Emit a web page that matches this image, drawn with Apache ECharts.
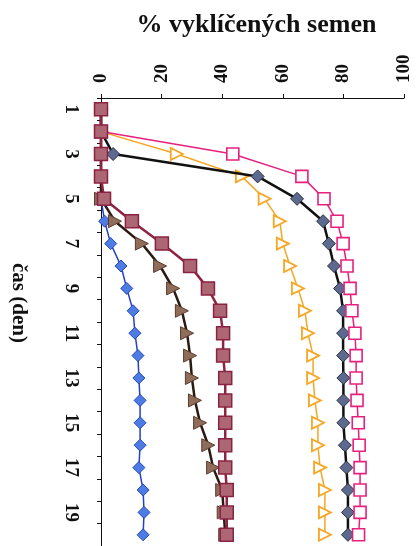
<!DOCTYPE html>
<html>
<head>
<meta charset="utf-8">
<script src="https://cdn.jsdelivr.net/npm/echarts@6/dist/echarts.min.js"></script>
<style>
html,body{margin:0;padding:0;background:#fff;}
#chart{width:417px;height:546px;}
</style>
</head>
<body>
<div id="chart"></div>
<script>
var days = ['1','2','3','4','5','6','7','8','9','10','11','12','13','14','15','16','17','18','19','20'];
var valueTicks = [0, 20, 40, 60, 80, 100];
var pinkSeries   = [0, 0, 43.5, 66.3, 73.6, 77.9, 79.9, 81.2, 82.2, 82.8, 83.8, 84.2, 84.2, 84.5, 84.9, 85.2, 85.5, 85.5, 85.5, 85];
var blackSeries  = [0, 0, 4, 51.7, 64.7, 73.3, 75.2, 76.9, 78.9, 79.9, 79.9, 79.9, 80, 80, 80, 80.5, 81, 81.5, 81.5, 81.5];
var orangeSeries = [0, 0, 25, 46.5, 54, 59, 60, 62.4, 65, 67.3, 68.3, 70, 70, 70.6, 71.6, 71.6, 72.3, 73.9, 73.9, 73.9];
var maroonSeries = [0, 0, 0, 0, 1, 10.2, 20.1, 29.4, 35.3, 39.3, 40.3, 40.3, 41, 41, 41, 41, 41, 41.5, 41.5, 41.5];
var brownSeries  = [0, 0, 0, 0, 0, 4.6, 13.5, 19.5, 23.8, 26.7, 28.4, 29.4, 30, 31, 32.7, 35.4, 37, 40, 40.5, 41];
var blueSeries   = [0, 0, 0, 0, 0, 1.2, 3.2, 6.6, 8.5, 10.6, 11.2, 12.2, 12.5, 12.9, 12.9, 12.9, 12.5, 13.9, 14.2, 13.9];

var FONT = 'Liberation Serif';
var chart = echarts.init(document.getElementById('chart'), null, {renderer: 'canvas'});

function mk(name, data, o) {
  return {
    name: name,
    type: 'line',
    data: data,
    symbol: o.symbol,
    symbolSize: o.size,
    symbolRotate: o.rotate || 0,
    z: o.z,
    lineStyle: {color: o.line, width: o.lw},
    itemStyle: {color: o.fill, borderColor: o.border, borderWidth: o.bw},
    emphasis: {disabled: true},
    animation: false
  };
}

chart.setOption({
  backgroundColor: '#ffffff',
  animation: false,
  grid: {left: 101, right: 13, top: 98, bottom: -1, containLabel: false},
  xAxis: {
    type: 'value',
    position: 'top',
    min: valueTicks[0],
    max: valueTicks[valueTicks.length - 1],
    interval: valueTicks[1] - valueTicks[0],
    name: '% vyklíčených semen',
    nameLocation: 'middle',
    nameGap: 60,
    nameTextStyle: {fontFamily: FONT, fontSize: 26, fontWeight: 'bold', color: '#111', padding: [0, 0, 0, 8]},
    axisLine: {show: true, lineStyle: {color: '#111', width: 1}},
    axisTick: {show: true, inside: false, length: 4, lineStyle: {color: '#111'}},
    splitLine: {show: false},
    axisLabel: {rotate: -90, margin: 15, fontFamily: FONT, fontSize: 19, fontWeight: 'bold', color: '#111'}
  },
  yAxis: {
    type: 'category',
    data: days,
    inverse: true,
    boundaryGap: true,
    axisLine: {show: true, lineStyle: {color: '#111', width: 1}},
    axisTick: {show: true, interval: 0, inside: false, length: 4, lineStyle: {color: '#111'}},
    splitLine: {show: false},
    axisLabel: {rotate: -90, interval: 1, margin: 21, fontFamily: FONT, fontSize: 19, fontWeight: 'bold', color: '#111'}
  },
  graphic: [{
    type: 'text',
    x: 18, y: 303,
    rotation: -Math.PI / 2,
    style: {text: 'čas (den)', fontFamily: FONT, fontSize: 21, fontWeight: 'bold', fill: '#111', textAlign: 'center', textVerticalAlign: 'middle'}
  }],
  series: [
    mk('blue', blueSeries, {symbol: 'diamond', size: 12, line: '#2440c4', lw: 1.5, fill: '#4d7ce2', border: '#2846c0', bw: 1, z: 2}),
    mk('brown', brownSeries, {symbol: 'triangle', size: 13, rotate: -90, line: '#2a1a12', lw: 2.5, fill: '#8e6d5b', border: '#5e3a2c', bw: 1, z: 3}),
    mk('orange', orangeSeries, {symbol: 'triangle', size: 12, rotate: -90, line: '#f6a623', lw: 1.5, fill: '#ffffff', border: '#f6a623', bw: 1.8, z: 4}),
    mk('black', blackSeries, {symbol: 'diamond', size: 13, line: '#111111', lw: 2.5, fill: '#5b6a8e', border: '#2b2f3e', bw: 1, z: 5}),
    mk('pink', pinkSeries, {symbol: 'rect', size: 12, line: '#e6207d', lw: 1.5, fill: '#ffffff', border: '#e6207d', bw: 1.6, z: 6}),
    mk('maroon', maroonSeries, {symbol: 'rect', size: 13, line: '#8e2342', lw: 2.5, fill: '#ad6674', border: '#8a2342', bw: 1.5, z: 7})
  ]
});
</script>
</body>
</html>
